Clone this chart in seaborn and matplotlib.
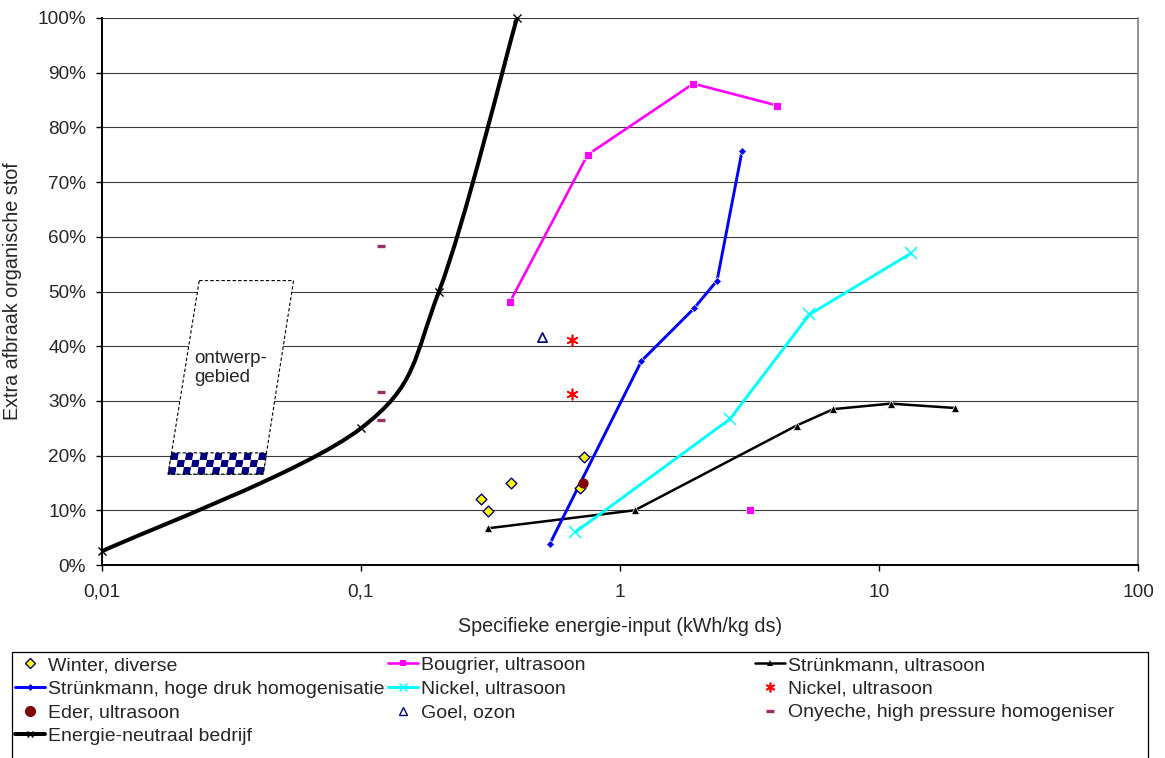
import numpy as np
import pandas as pd
import matplotlib
matplotlib.use("Agg")
import matplotlib.pyplot as plt
import seaborn as sns
from matplotlib.path import Path
from matplotlib.patches import PathPatch, Polygon, Rectangle
from matplotlib.lines import Line2D
from matplotlib.ticker import FixedLocator, FuncFormatter, NullLocator

# ---------------- data ----------------
winter_x = [0.290, 0.308, 0.381, 0.726, 0.700]
winter_y = [12.0, 9.9, 15.0, 19.7, 14.1]

bougrier_x = [0.375, 0.75, 1.92, 4.05]
bougrier_y = [48.0, 75.0, 88.0, 84.0]
bougrier_extra_x = [3.19]
bougrier_extra_y = [10.0]

strunk_us_x = [0.308, 1.14, 4.81, 6.67, 11.1, 19.7]
strunk_us_y = [6.7, 10.0, 25.5, 28.5, 29.5, 28.7]

strunk_hd_x = [0.535, 1.21, 1.93, 2.37, 2.96]
strunk_hd_y = [3.8, 37.3, 46.9, 52.0, 75.7]

nickel_us_x = [0.672, 2.66, 5.39, 13.3]
nickel_us_y = [6.0, 26.7, 45.8, 57.0]

nickel_pts_x = [0.655, 0.655]
nickel_pts_y = [41.1, 31.3]

eder_x = [0.717]
eder_y = [15.0]

goel_x = [0.498]
goel_y = [41.7]

onyeche_x = [0.119, 0.119, 0.119]
onyeche_y = [58.3, 31.6, 26.5]

energie_x = [0.01, 0.1, 0.2, 0.4]
energie_y = [2.5, 25.0, 50.0, 100.0]

x_ticks = [0.01, 0.1, 1, 10, 100]
x_tick_labels = ["0,01", "0,1", "1", "10", "100"]
y_ticks = list(range(0, 101, 10))

labels = {
    "winter": "Winter, diverse",
    "bougrier": "Bougrier, ultrasoon",
    "strunk_us": "Strünkmann, ultrasoon",
    "strunk_hd": "Strünkmann, hoge druk homogenisatie",
    "nickel_us": "Nickel, ultrasoon",
    "nickel_pts": "Nickel, ultrasoon",
    "eder": "Eder, ultrasoon",
    "goel": "Goel, ozon",
    "onyeche": "Onyeche, high pressure homogeniser",
    "energie": "Energie-neutraal bedrijf",
}

# ---------------- style ----------------
sns.set_theme(style="white")
plt.rcParams["font.family"] = ["Liberation Sans", "DejaVu Sans"]

W, H = 1165, 758
fig = plt.figure(figsize=(W / 100, H / 100), dpi=100)
L, R, T, B = 102, 1138, 18, 565
ax = fig.add_axes([L / W, 1 - B / H, (R - L) / W, (B - T) / H])
ax.set_xscale("log")
ax.set_xlim(0.01, 100)
ax.set_ylim(0, 100)

MAGENTA = "#FF00FF"
BLUE = "#0000FF"
CYAN = "#00FFFF"
NAVY = "#000080"

# Lines with markers
sns.lineplot(x=bougrier_x, y=bougrier_y, ax=ax, color=MAGENTA, lw=1.9,
             marker="s", markersize=6, markeredgewidth=0.6, markeredgecolor="white",
             sort=False, estimator=None, legend=False, zorder=4)
sns.scatterplot(x=bougrier_extra_x, y=bougrier_extra_y, ax=ax, marker="s",
                s=40, color=MAGENTA, edgecolor="white", linewidth=0.6, legend=False, zorder=4)
sns.lineplot(x=strunk_us_x, y=strunk_us_y, ax=ax, color="black", lw=1.8,
             marker="^", markersize=5.5, markeredgewidth=0.5, markeredgecolor="white",
             sort=False, estimator=None, legend=False, zorder=4)
sns.lineplot(x=strunk_hd_x, y=strunk_hd_y, ax=ax, color=BLUE, lw=2.1,
             marker="D", markersize=4.5, markeredgewidth=0.5, markeredgecolor="white",
             sort=False, estimator=None, legend=False, zorder=4)
sns.lineplot(x=nickel_us_x, y=nickel_us_y, ax=ax, color=CYAN, lw=2.1,
             marker="x", markersize=9, markeredgewidth=1.1, markeredgecolor=CYAN,
             sort=False, estimator=None, legend=False, zorder=4)

# Scatter series
sns.scatterplot(x=winter_x, y=winter_y, ax=ax, marker="D", s=30,
                color="#FFFF00", edgecolor=NAVY, linewidth=1.0, legend=False, zorder=5)
sns.scatterplot(x=nickel_pts_x, y=nickel_pts_y, ax=ax, marker=(6, 2, 0), s=55,
                color="#FF0000", linewidth=1.2, legend=False, zorder=5)
sns.scatterplot(x=eder_x, y=eder_y, ax=ax, marker="o", s=55,
                color="#800000", linewidth=0, legend=False, zorder=6)
sns.scatterplot(x=goel_x, y=goel_y, ax=ax, marker="^", s=45,
                color="white", edgecolor=NAVY, linewidth=1.2, legend=False, zorder=5)
sns.scatterplot(x=onyeche_x, y=onyeche_y, ax=ax, marker="_", s=40,
                color="#993366", linewidth=2.4, legend=False, zorder=5)

# Energie-neutraal: smoothed (Excel-style) curve through the points
u = np.log10(energie_x)
v = np.array(energie_y, dtype=float)
pts = np.column_stack([u, v])
ext = np.vstack([pts[0], pts, pts[-1]])
verts = [tuple(pts[0])]
codes = [Path.MOVETO]
for i in range(len(pts) - 1):
    p0, p1, p2, p3 = ext[i], ext[i + 1], ext[i + 2], ext[i + 3]
    c1 = p1 + (p2 - p0) / 6.0
    c2 = p2 - (p3 - p1) / 6.0
    verts += [tuple(c1), tuple(c2), tuple(p2)]
    codes += [Path.CURVE4] * 3
verts = np.array(verts)
verts[:, 0] = 10 ** verts[:, 0]
curve = PathPatch(Path(verts, codes), fill=False, edgecolor="black", lw=2.9,
                  capstyle="round", joinstyle="round", zorder=4)
ax.add_patch(curve)
sns.scatterplot(x=energie_x, y=energie_y, ax=ax, marker="x", s=34,
                color="black", linewidth=1.0, legend=False, zorder=6, clip_on=False)

# ---------------- ontwerpgebied ----------------
x_tl, x_tr, x_br, x_bl = 0.02374, 0.0549, 0.0419, 0.0180
y_top, y_bot, y_chk = 52.0, 16.6, 20.5
para = Polygon([(x_tl, y_top), (x_tr, y_top), (x_br, y_bot), (x_bl, y_bot)],
               closed=True, facecolor="white", edgecolor="black", lw=0.8,
               linestyle=(0, (3, 2)), zorder=3)
ax.add_patch(para)


def corner(s, vv):
    frac = (vv - y_bot) / (y_top - y_bot)
    ul = np.log10(x_bl) + frac * (np.log10(x_tl) - np.log10(x_bl))
    ur = np.log10(x_br) + frac * (np.log10(x_tr) - np.log10(x_br))
    return (10 ** (ul + s * (ur - ul)), vv)


ncol_chk, nrow_chk = 13, 3
for r in range(nrow_chk):
    v0 = y_chk - (y_chk - y_bot) * r / nrow_chk
    v1 = y_chk - (y_chk - y_bot) * (r + 1) / nrow_chk
    for c in range(ncol_chk):
        s0, s1 = c / ncol_chk, (c + 1) / ncol_chk
        col = NAVY if (r + c) % 2 == 0 else "white"
        ax.add_patch(Polygon([corner(s0, v0), corner(s1, v0), corner(s1, v1), corner(s0, v1)],
                             closed=True, facecolor=col, edgecolor="none", zorder=3.1))
ax.add_patch(Polygon([corner(0, y_chk), corner(1, y_chk), corner(1, y_bot), corner(0, y_bot)],
                     closed=True, fill=False, edgecolor="black", lw=0.8,
                     linestyle=(0, (3, 2)), zorder=3.2))
ax.text(0.0228, 36.0, "ontwerp-\ngebied", fontsize=13.5, ha="left", va="center",
        linespacing=1.15, zorder=3.3)

# ---------------- axes styling ----------------
ax.xaxis.set_major_locator(FixedLocator(x_ticks))
ax.xaxis.set_minor_locator(NullLocator())
ax.xaxis.set_major_formatter(FuncFormatter(lambda val, pos: x_tick_labels[x_ticks.index(val)]
                                           if val in x_ticks else ""))
ax.yaxis.set_major_locator(FixedLocator(y_ticks))
ax.yaxis.set_major_formatter(FuncFormatter(lambda val, pos: f"{int(round(val))}%"))
ax.yaxis.grid(True, color="#3a3a3a", lw=0.8)
ax.xaxis.grid(False)
ax.set_axisbelow(True)
for side in ["left", "bottom"]:
    ax.spines[side].set_color("black")
    ax.spines[side].set_linewidth(1.4)
ax.spines["top"].set_visible(False)
ax.spines["right"].set_color("#808080")
ax.spines["right"].set_linewidth(1.2)
ax.tick_params(axis="both", which="major", direction="out", length=4.5, width=1.0,
               color="black", labelsize=13.7, left=True, bottom=True)
ax.tick_params(axis="y", pad=7)
ax.tick_params(axis="x", pad=9)
ax.set_xlabel("Specifieke energie-input (kWh/kg ds)", fontsize=14.2, labelpad=12)
ax.set_ylabel("Extra afbraak organische stof", fontsize=14.2, labelpad=11)

# ---------------- legend ----------------
handles = {
    "winter": Line2D([], [], ls="none", marker="D", ms=5, mfc="#FFFF00", mec=NAVY, mew=1.0),
    "bougrier": Line2D([], [], color=MAGENTA, lw=1.9, marker="s", ms=5, mew=0),
    "strunk_us": Line2D([], [], color="black", lw=1.8, marker="^", ms=4, mew=0),
    "strunk_hd": Line2D([], [], color=BLUE, lw=2.1, marker="D", ms=3.5, mew=0),
    "nickel_us": Line2D([], [], color=CYAN, lw=2.1, marker="x", ms=6, mew=1.0),
    "nickel_pts": Line2D([], [], ls="none", color="#FF0000", marker=(6, 2, 0), ms=7, mew=1.2),
    "eder": Line2D([], [], ls="none", marker="o", ms=7, mfc="#800000", mec="#800000"),
    "goel": Line2D([], [], ls="none", marker="^", ms=6, mfc="white", mec=NAVY, mew=1.0),
    "onyeche": Line2D([], [], ls="none", marker="_", ms=6, color="#993366", mew=2.4),
    "energie": Line2D([], [], color="black", lw=2.9, marker="x", ms=5, mew=1.0),
}
columns = [
    (["winter", "strunk_hd", "eder", "energie"], 15),
    (["bougrier", "nickel_us", "goel"], 388),
    (["strunk_us", "nickel_pts", "onyeche"], 755),
]
for keys, xpix in columns:
    fig.legend([handles[k] for k in keys], [labels[k] for k in keys],
               loc="upper left", bbox_to_anchor=(xpix / W, 1 - 656.5 / H),
               bbox_transform=fig.transFigure, frameon=False, fontsize=14,
               handlelength=1.55, handletextpad=0.15, labelspacing=0.31,
               borderpad=0, borderaxespad=0)
fig.add_artist(Rectangle((12 / W, -0.05), (1148 - 12) / W, (758 - 652) / H + 0.05,
                         transform=fig.transFigure, fill=False, edgecolor="black", lw=0.9))

fig.savefig("out.png", dpi=100)
